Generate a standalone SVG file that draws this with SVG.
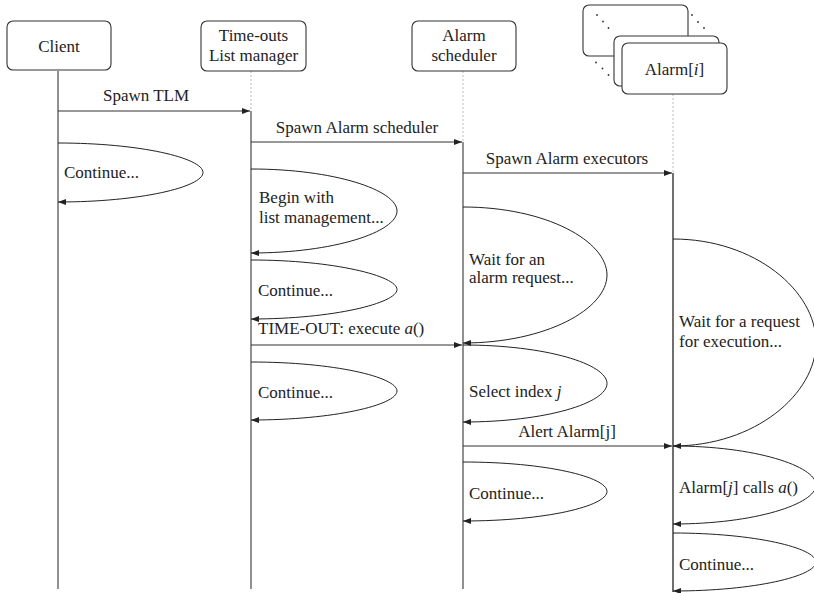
<svg xmlns="http://www.w3.org/2000/svg" width="814" height="593" viewBox="0 0 814 593">
<defs>
<marker id="ah" markerWidth="8" markerHeight="6" refX="8" refY="3" orient="auto" markerUnits="userSpaceOnUse">
<path d="M0,0 L8,3 L0,6 z" fill="#222"/>
</marker>
<style>
text{font-family:'Liberation Serif','DejaVu Serif',serif;font-size:17px;fill:#222}
.c{text-anchor:middle}
.box{fill:#fff;stroke:#333;stroke-width:1.1}
.life{stroke:#555;stroke-width:1.3;fill:none}
.dash{stroke:#bbb;stroke-width:1;stroke-dasharray:2,2;fill:none}
.msg{stroke:#333;stroke-width:1.1;fill:none;marker-end:url(#ah)}
.loop{stroke:#222;stroke-width:1;fill:none;marker-end:url(#ah)}
.dot{fill:#333}
</style>
</defs>
<rect width="814" height="593" fill="#fff"/>

<g id="lifelines">
<line class="life" x1="58" y1="71" x2="58" y2="589"/>
<line class="dash" x1="251" y1="71" x2="251" y2="111"/>
<line class="life" x1="251" y1="111" x2="251" y2="589"/>
<line class="dash" x1="463" y1="71" x2="463" y2="142"/>
<line class="life" x1="463" y1="142" x2="463" y2="589"/>
<line class="dash" x1="673" y1="94" x2="673" y2="173"/>
<line class="life" x1="673" y1="173" x2="673" y2="592" style="stroke:#222"/>
</g>

<g font-family="Liberation Serif, DejaVu Serif, serif">
<g id="client">
<rect class="box" x="7" y="21" width="104" height="49" rx="6"/>
<text class="c" x="59" y="52" font-family="Liberation Serif, serif">Client</text>
</g>
<g id="tlm">
<rect class="box" x="201" y="21" width="105" height="50" rx="6"/>
<text class="c" x="253.5" y="41" font-family="Liberation Serif, serif">Time-outs</text>
<text class="c" x="253.5" y="61" font-family="Liberation Serif, serif">List manager</text>
</g>
<g id="scheduler">
<rect class="box" x="412" y="21" width="104" height="50" rx="6"/>
<text class="c" x="464" y="41" font-family="Liberation Serif, serif">Alarm</text>
<text class="c" x="464" y="61" font-family="Liberation Serif, serif">scheduler</text>
</g>
<g id="alarm">
<rect class="box" x="583" y="5" width="105" height="51" rx="6"/>
<rect class="box" x="614" y="36" width="105" height="50" rx="6"/>
<rect class="box" x="622" y="43" width="105" height="51" rx="6"/>
<circle class="dot" cx="597" cy="15" r="0.9"/>
<circle class="dot" cx="603" cy="21.5" r="0.9"/>
<circle class="dot" cx="608.5" cy="28" r="0.9"/>
<circle class="dot" cx="692" cy="15" r="0.9"/>
<circle class="dot" cx="698" cy="22" r="0.9"/>
<circle class="dot" cx="704" cy="28" r="0.9"/>
<circle class="dot" cx="596" cy="62.5" r="0.9"/>
<circle class="dot" cx="602.5" cy="68.5" r="0.9"/>
<circle class="dot" cx="608.5" cy="75" r="0.9"/>
<text class="c" x="674.5" y="75" font-family="Liberation Serif, serif">Alarm[<tspan font-style="italic">i</tspan>]</text>
</g>

<g id="connectors" font-family="Liberation Serif, serif">
<path class="msg" d="M58,111 H250"/>
<text class="c" x="146" y="101" font-family="Liberation Serif, serif">Spawn TLM</text>
<path class="msg" d="M251,142 H462"/>
<text class="c" x="357" y="133" font-family="Liberation Serif, serif">Spawn Alarm scheduler</text>
<path class="msg" d="M463,173 H672"/>
<text class="c" x="567" y="164" font-family="Liberation Serif, serif">Spawn Alarm executors</text>
<path class="msg" d="M251,345 H462"/>
<text x="258" y="334" font-family="Liberation Serif, serif">TIME-OUT: execute <tspan font-style="italic">a</tspan>()</text>
<path class="msg" d="M463,446 H672"/>
<text class="c" x="567" y="437" font-family="Liberation Serif, serif">Alert Alarm[j]</text>

<path class="loop" d="M58,143 C140,143 203,158 203,172.5 C203,187 140,202 58,202"/>
<text x="64" y="178" font-family="Liberation Serif, serif">Continue...</text>

<path class="loop" d="M251,169 C334,169 397,190 397,211 C397,232 334,253 251,253"/>
<text x="259" y="203" font-family="Liberation Serif, serif">Begin with</text>
<text x="259" y="223" font-family="Liberation Serif, serif">list management...</text>

<path class="loop" d="M251,260 C334,260 397,276 397,289.5 C397,303 334,319 251,319"/>
<text x="258" y="296" font-family="Liberation Serif, serif">Continue...</text>

<path class="loop" d="M251,362 C334,362 397,377 397,391 C397,405 334,420 251,420"/>
<text x="258" y="398" font-family="Liberation Serif, serif">Continue...</text>

<path class="loop" d="M463,207 C546,207 607,241 607,275 C607,309 546,343 463,343"/>
<text x="469" y="265" font-family="Liberation Serif, serif">Wait for an</text>
<text x="469" y="283" font-family="Liberation Serif, serif">alarm request...</text>

<path class="loop" d="M463,345 C546,345 607,364 607,383.5 C607,403 546,422 463,422"/>
<text x="469" y="397" font-family="Liberation Serif, serif">Select index <tspan font-style="italic">j</tspan></text>

<path class="loop" d="M463,462 C546,462 607,477 607,491.5 C607,506 546,521 463,521"/>
<text x="469" y="499" font-family="Liberation Serif, serif">Continue...</text>

<path class="loop" d="M673,239 C755,239 816,291 816,342.5 C816,394 755,446 673,446"/>
<text x="679" y="327" font-family="Liberation Serif, serif">Wait for a request</text>
<text x="679" y="347" font-family="Liberation Serif, serif">for execution...</text>

<path class="loop" d="M673,446 C755,446 816,466 816,485 C816,504 755,524 673,524"/>
<text x="679" y="493" font-family="Liberation Serif, serif">Alarm[<tspan font-style="italic">j</tspan>] calls <tspan font-style="italic">a</tspan>()</text>

<path class="loop" d="M673,533 C755,533 816,548 816,562 C816,576 755,591 673,591"/>
<text x="679" y="570" font-family="Liberation Serif, serif">Continue...</text>
</g>
</g>
</svg>
